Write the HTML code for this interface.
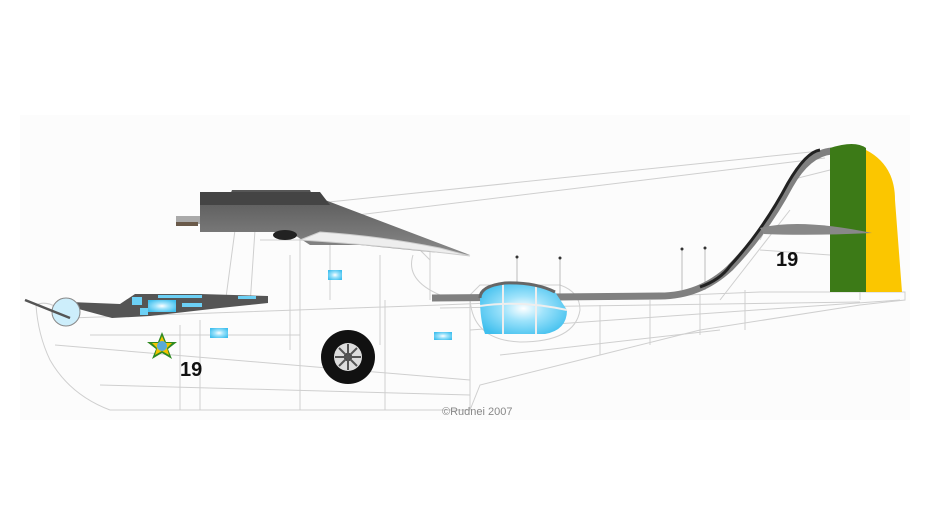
<!DOCTYPE html>
<html><head><meta charset="utf-8"><style>
html,body{margin:0;padding:0;background:#fff;width:950px;height:521px;overflow:hidden}
svg{display:block}
</style></head><body>
<svg width="950" height="521" viewBox="0 0 950 521" xmlns="http://www.w3.org/2000/svg">
<defs>
<radialGradient id="gl" cx="50%" cy="50%" r="60%"><stop offset="0" stop-color="#fff"/><stop offset="0.4" stop-color="#9fe3fb"/><stop offset="1" stop-color="#3fbfee"/></radialGradient>
<linearGradient id="gw" x1="0" y1="0" x2="0" y2="1"><stop offset="0" stop-color="#555"/><stop offset="1" stop-color="#8a8a8a"/></linearGradient>
</defs>
<rect x="20" y="115" width="890" height="305" fill="#fcfcfc"/>
<g fill="none" stroke="#cfcfcf" stroke-width="1">
<path d="M300 205 L830 150"/>
<path d="M300 222 L825 158"/>
<!-- hull -->
<path d="M36 305 Q50 298 70 318 L440 305 L760 292 L830 292 L905 292 L905 300 L860 305 L700 330 L600 355 L480 385 L470 410 L110 410 Q70 395 50 360 Q38 335 36 305 Z"/>
<path d="M55 345 L470 380"/>
<path d="M100 385 L470 395"/>
<path d="M90 335 L300 335"/>
<path d="M440 308 L860 302"/>
<path d="M470 330 L900 300"/>
<path d="M500 355 L720 330"/>
<path d="M180 325 L180 410 M200 320 L200 410 M300 312 L300 410 M385 300 L385 410 M470 300 L470 410"/>
<path d="M600 305 L600 355 M650 300 L650 345 M700 295 L700 335 M745 290 L745 330"/>
<path d="M235 230 L225 305 M255 230 L250 305 M300 230 L300 312 M330 240 L330 300 M430 245 L430 300 M260 240 L410 240 L430 260"/>
<path d="M290 255 L290 350 M380 255 L380 345"/>
<path d="M413 255 Q405 280 440 295 L470 295"/>
<path d="M470 295 Q470 340 520 342 Q575 342 580 310 Q580 292 560 285 L480 285 Z"/>
<path d="M760 240 L790 180 L830 170 M720 300 L790 210 M860 230 L860 300"/>
<path d="M760 250 L830 255"/>
</g>
<g stroke="#bbb" stroke-width="1"><path d="M517 257 L517 300 M560 258 L560 300 M682 250 L682 290 M705 248 L705 290"/></g>
<g fill="#333"><circle cx="517" cy="257" r="1.5"/><circle cx="560" cy="258" r="1.5"/><circle cx="682" cy="249" r="1.5"/><circle cx="705" cy="248" r="1.5"/></g>
<!-- top stripe -->
<path d="M432 298 L660 296 Q700 296 730 268 Q765 232 790 185 Q808 153 832 151" fill="none" stroke="#808080" stroke-width="7"/>
<path d="M700 287 Q720 280 730 266 Q763 230 788 183 Q806 152 820 150" fill="none" stroke="#222" stroke-width="3"/>
<!-- nose stripe -->
<path d="M60 304 L112 318 L150 316 L220 308 L268 303 L268 296 L200 294 L135 294 L120 304 L70 302 Z" fill="#555"/>
<rect x="132" y="297" width="10" height="8" fill="#6cd0f5"/><rect x="148" y="300" width="28" height="12" fill="url(#gl)"/><rect x="140" y="308" width="8" height="7" fill="#6cd0f5"/><rect x="158" y="295" width="44" height="3" fill="#6cd0f5"/><rect x="182" y="303" width="20" height="4" fill="#6cd0f5"/><rect x="238" y="296" width="18" height="3" fill="#6cd0f5"/>
<circle cx="66" cy="312" r="14" fill="#cdeefb" stroke="#888" stroke-width="1"/>
<path d="M25 300 L70 318" stroke="#555" stroke-width="2.5"/>
<!-- engine nacelle -->
<path d="M200 195 L230 195 L232 190 L310 190 L312 195 L325 200 L470 255 L430 252 L360 245 L310 245 L290 232 L200 232 Z" fill="url(#gw)"/>
<path d="M200 192 L320 192 L330 205 L200 205 Z" fill="#444"/>
<rect x="300" y="194" width="12" height="6" fill="#444"/>
<rect x="176" y="216" width="24" height="8" fill="#aaa"/><rect x="176" y="222" width="22" height="4" fill="#6a5a4a"/>
<ellipse cx="285" cy="235" rx="12" ry="5" fill="#222"/>
<path d="M300 240 Q380 245 470 256 L440 248 Q380 236 320 232 Z" fill="#eee" stroke="#ccc"/>
<!-- tail surfaces -->
<path d="M830 148 Q855 140 866 148 L866 292 L830 292 Z" fill="#3c7a17"/>
<path d="M866 150 Q895 165 895 200 L902 292 L866 292 Z" fill="#fbc600"/>
<path d="M760 228 Q800 218 872 233 Q810 236 764 234 Z" fill="#888"/>
<g fill="url(#gl)"><rect x="328" y="270" width="14" height="10"/><rect x="210" y="328" width="18" height="10"/><rect x="434" y="332" width="18" height="8"/></g>
<path d="M480 298 Q480 286 505 283 Q535 282 555 292 L567 310 Q567 330 545 334 L485 334 Q480 320 480 298Z" fill="url(#gl)"/>
<path d="M480 306 Q520 300 567 310 M503 284 L503 334 M536 286 L536 334" stroke="#eee" stroke-width="2" fill="none"/>
<path d="M480 298 Q480 286 505 283 Q535 282 555 292" stroke="#666" stroke-width="3" fill="none"/>
<circle cx="348" cy="357" r="27" fill="#111"/>
<circle cx="348" cy="357" r="14" fill="#ddd"/>
<circle cx="348" cy="357" r="4" fill="#111"/>
<g stroke="#555" stroke-width="2"><path d="M348 344 V370 M335 357 H361 M339 348 L357 366 M357 348 L339 366"/></g>
<polygon points="162,332 166,342 177,342 168,349 172,359 162,353 152,359 156,349 147,342 158,342" fill="#2f8a22"/>
<polygon points="162,336 165,343 172,343 167,348 169,355 162,351 155,355 157,348 152,343 159,343" fill="#f2c400"/>
<circle cx="162" cy="346" r="5" fill="#5aaad8"/>
<text x="180" y="376" font-family="Liberation Sans, sans-serif" font-size="20" font-weight="bold" fill="#111">19</text>
<text x="776" y="266" font-family="Liberation Sans, sans-serif" font-size="20" font-weight="bold" fill="#111">19</text>
<text x="442" y="415" font-family="Liberation Sans, sans-serif" font-size="11" fill="#888">©Rudnei 2007</text>
</svg>
</body></html>
